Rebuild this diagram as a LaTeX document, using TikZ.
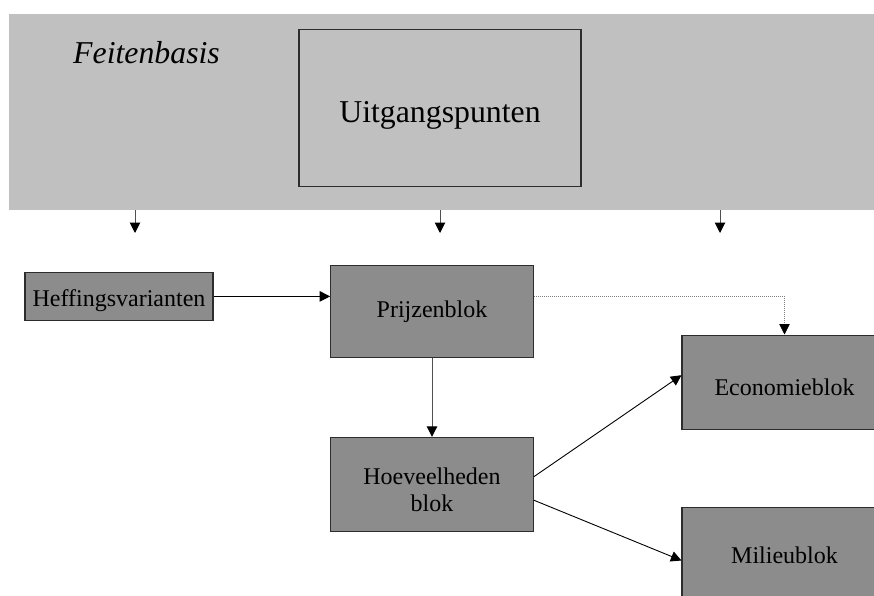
\documentclass[tikz,border=0pt]{standalone}
\usepackage{fontspec}
\setmainfont{Liberation Serif}
\usetikzlibrary{arrows.meta,calc}
\definecolor{bandgray}{RGB}{192,192,192}
\definecolor{blockgray}{RGB}{140,140,140}
\definecolor{edgegray}{RGB}{45,45,45}
\definecolor{linegray}{RGB}{80,80,80}
\begin{document}
\begin{tikzpicture}[x=1pt,y=-1pt,
  blk/.style={draw=edgegray, line width=1.1pt, fill=blockgray, inner sep=0pt,
    font=\fontsize{24pt}{26.7pt}\selectfont},
  conn/.style={line width=0.9pt, -{Triangle[width=10.5pt,length=10.5pt]}},
  feed/.style={draw=linegray, line width=1pt, -{Triangle[width=10.5pt,length=10.5pt,fill=black,color=black]}},
  dots/.style={draw=gray, line width=0.8pt, dash pattern=on 1pt off 1pt,
    -{Triangle[width=10.5pt,length=10.5pt,fill=black,color=black]}}]
\useasboundingbox (0,0) rectangle (874,596);
\clip (0,0) rectangle (874,596);

% top band
\node[fill=bandgray, inner sep=0pt, minimum width=875pt, minimum height=196pt] (band) at (446.5,112) {};
\node[draw=edgegray, line width=1.1pt, fill=bandgray, inner sep=0pt,
  minimum width=282pt, minimum height=156.7pt, text height=36pt, text depth=7pt,
  font=\fontsize{31.8pt}{36pt}\selectfont] (uitg) at (440,108.3) {Uitgangspunten};
\node[anchor=base west, inner sep=0pt, font=\fontsize{31.8pt}{36pt}\selectfont\itshape] (feit) at (73,63.3) {Feitenbasis};

% blocks
\node[blk, minimum width=188pt, minimum height=47.3pt, text height=24pt, text depth=4.8pt] (heff) at (119,296.4) {Heffingsvarianten};
\node[blk, minimum width=202.6pt, minimum height=92.7pt, text height=17pt, text depth=4.4pt] (prijz) at (432,311.4) {Prijzenblok};
\node[blk, minimum width=202.6pt, minimum height=93.7pt, text height=53.6pt, text depth=0pt] (hoev) at (432,484.2)
  {\begin{tabular}[b]{@{}c@{}}Hoeveelheden\\blok\end{tabular}};
\node[blk, minimum width=205pt, minimum height=94.3pt, text height=26pt, text depth=0pt] (econ) at (784.5,382.2) {Economieblok};
\node[blk, minimum width=205pt, minimum height=94.3pt, text height=17.6pt, text depth=0pt] (mil) at (784.5,554.5) {Milieublok};

% arrows out of the band
\coordinate (t1) at (135,233);
\coordinate (t2) at (440,233);
\coordinate (t3) at (720,233);
\draw[feed] (band.south -| t1) -- (t1);
\draw[feed] (band.south -| t2) -- (t2);
\draw[feed] (band.south -| t3) -- (t3);

% connectors
\draw[conn] (heff.east) -- (heff.east -| prijz.west);
\draw[dots] (heff.east -| prijz.east) -| (econ.north);
\draw[feed] (prijz.south) -- (hoev.north);
\draw[conn] ([yshift=7.5pt]hoev.east) -- ([yshift=7pt]econ.west);
\draw[conn] ([yshift=-16pt]hoev.east) -- ([yshift=-6pt]mil.west);
\end{tikzpicture}
\end{document}
